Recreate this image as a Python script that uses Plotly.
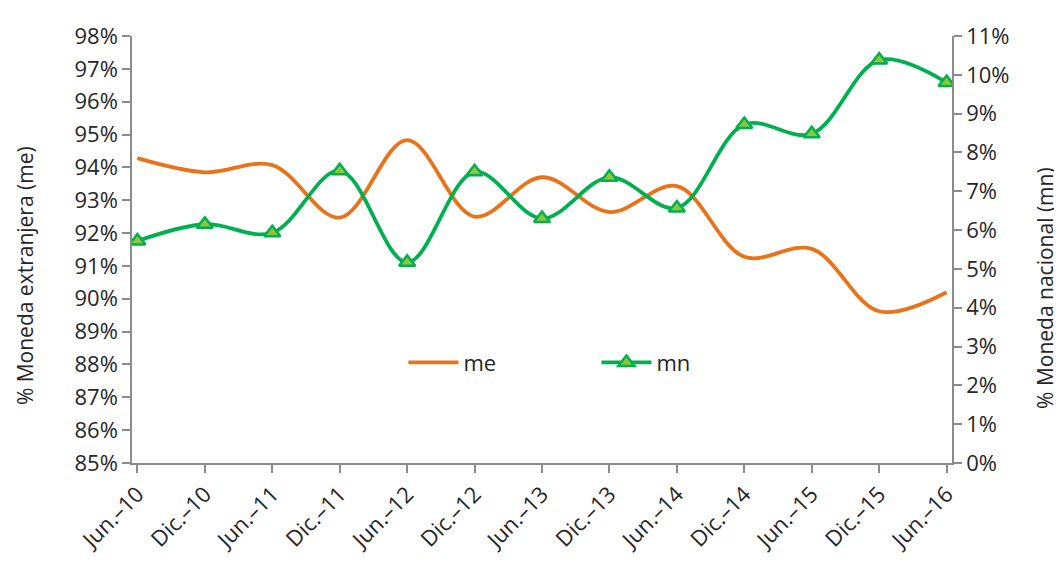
import plotly.graph_objects as go

categories = ["Jun.–10", "Dic.–10", "Jun.–11", "Dic.–11", "Jun.–12", "Dic.–12", "Jun.–13",
              "Dic.–13", "Jun.–14", "Dic.–14", "Jun.–15", "Dic.–15", "Jun.–16"]
me_values = [94.28, 93.85, 94.07, 92.47, 94.83, 92.50, 93.70, 92.64, 93.43, 91.28, 91.52, 89.62, 90.20]
mn_values = [5.72, 6.15, 5.93, 7.53, 5.17, 7.50, 6.30, 7.36, 6.57, 8.72, 8.48, 10.38, 9.80]

left_ticks = list(range(85, 99))
right_ticks = list(range(0, 12))

FONT = "Open Sans"
TXT = "#262626"
AX = "#8c8c8c"

fig = go.Figure()
fig.add_trace(go.Scatter(
    x=categories, y=me_values, name="me", mode="lines",
    line=dict(color="#E8731A", width=3.8, shape="spline", smoothing=1.0),
    yaxis="y",
))
fig.add_trace(go.Scatter(
    x=categories, y=mn_values, name="mn", mode="lines+markers",
    line=dict(color="#00B050", width=3.8, shape="spline", smoothing=1.0),
    marker=dict(symbol="triangle-up", size=14, color="#8CC63F",
                line=dict(color="#00B050", width=2.5)),
    yaxis="y2",
))

fig.update_layout(
    width=1054, height=562,
    margin=dict(l=124, r=110, t=21, b=107),
    plot_bgcolor="white", paper_bgcolor="white",
    font=dict(family=FONT, size=22, color=TXT),
    xaxis=dict(
        type="category", range=[-0.08, 12.08],
        showline=True, linecolor=AX, linewidth=1.5,
        ticks="outside", ticklen=8, tickcolor=AX, tickwidth=1.5,
        tickangle=-45, showgrid=False, zeroline=False,
        tickfont=dict(family=FONT, size=22, color=TXT),
    ),
    yaxis=dict(
        range=[85, 98], tickvals=left_ticks, ticktext=[f"{v}%" for v in left_ticks],
        showline=True, linecolor=AX, linewidth=1.5,
        ticks="outside", ticklen=8, tickcolor=AX, tickwidth=1.5,
        showgrid=False, zeroline=False,
        tickfont=dict(family=FONT, size=22, color=TXT),
    ),
    yaxis2=dict(
        range=[0, 11], tickvals=right_ticks, ticktext=[f"{v}%" for v in right_ticks],
        overlaying="y", side="right",
        showline=True, linecolor=AX, linewidth=1.5,
        ticks="outside", ticklen=8, tickcolor=AX, tickwidth=1.5,
        showgrid=False, zeroline=False,
        tickfont=dict(family=FONT, size=22, color=TXT),
    ),
    legend=dict(
        orientation="h", x=0.331, y=0.235, xanchor="left", yanchor="middle",
        font=dict(family=FONT, size=22, color=TXT),
        bgcolor="rgba(0,0,0,0)", itemwidth=50, tracegroupgap=0,
        entrywidthmode="pixels", entrywidth=128,
    ),
    showlegend=True,
)

fig.add_annotation(
    text="% Moneda extranjera (me)", xref="paper", yref="paper",
    x=-0.1305, y=0.44, textangle=-90, showarrow=False,
    font=dict(family=FONT, size=21, color=TXT), xanchor="center", yanchor="middle",
)
fig.add_annotation(
    text="% Moneda nacional (mn)", xref="paper", yref="paper",
    x=1.1134, y=0.41, textangle=-90, showarrow=False,
    font=dict(family=FONT, size=21, color=TXT), xanchor="center", yanchor="middle",
)

fig.write_html("out.html")
